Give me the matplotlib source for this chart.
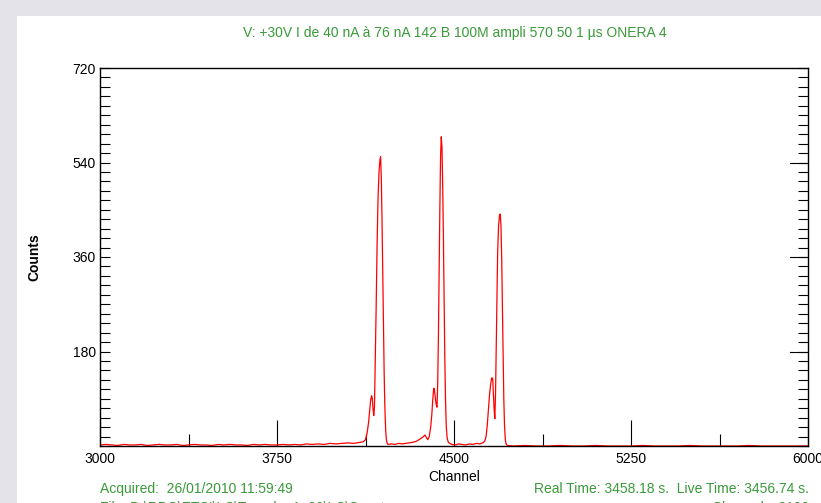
import numpy as np
import matplotlib
matplotlib.use('Agg')
import matplotlib.pyplot as plt
from matplotlib.patches import Rectangle
from matplotlib.ticker import MultipleLocator

plt.rcParams['font.family'] = ['Liberation Sans', 'DejaVu Sans']

# Spectrum (channel, counts)
channels = [3000, 3025, 3050, 3075, 3100, 3125, 3150, 3175, 3200, 3225, 3250, 3275,
            3300, 3325, 3350, 3375, 3400, 3425, 3450, 3475, 3500, 3525, 3550, 3575,
            3600, 3625, 3650, 3675, 3700, 3725, 3750, 3775, 3800, 3825, 3850, 3875,
            3900, 3925, 3950, 3975, 4000, 4025, 4050, 4075, 4100, 4115,
            # peak 1
            4125, 4132, 4138, 4143, 4147, 4151, 4154, 4157, 4160, 4163, 4166, 4170,
            4174, 4178, 4182, 4186, 4189, 4192, 4195, 4198, 4201, 4204, 4207, 4210,
            4213, 4216, 4220,
            # between 1 and 2
            4235, 4250, 4265, 4280, 4295, 4310, 4325, 4340, 4355, 4368, 4377, 4383,
            4389, 4395, 4401, 4406, 4410, 4414, 4417, 4420, 4424, 4428,
            # peak 2
            4431, 4434, 4437, 4440, 4443, 4446, 4449, 4452, 4455, 4458, 4461, 4464,
            4467, 4471, 4476,
            # between 2 and 3
            4490, 4505, 4520, 4535, 4550, 4565, 4580, 4595, 4610, 4622, 4630, 4636,
            4641, 4646, 4651, 4656, 4660, 4664, 4667, 4670, 4673,
            # peak 3
            4676, 4679, 4682, 4685, 4689, 4693, 4696, 4699, 4702, 4705, 4708, 4711,
            4714, 4717, 4720, 4725,
            # tail
            4750, 4800, 4850, 4900, 4950, 5000, 5050, 5100, 5150, 5200, 5250, 5300,
            5350, 5400, 5450, 5500, 5550, 5600, 5650, 5700, 5750, 5800, 5850, 5900,
            5950, 6000]

counts = [2, 3, 2, 1, 3, 2, 2, 3, 1, 2, 3, 2,
          2, 3, 1, 2, 3, 2, 2, 1, 3, 2, 3, 2,
          2, 1, 3, 2, 3, 2, 2, 3, 2, 3, 2, 4,
          3, 4, 3, 5, 4, 5, 6, 5, 7, 8,
          12, 25, 45, 70, 88, 96, 90, 70, 58, 75, 150, 260,
          380, 470, 520, 545, 551, 510, 430, 330, 230, 140, 75, 35,
          14, 6, 3,
          4, 3, 5, 4, 5, 6, 7, 9, 13, 17, 21, 16,
          12, 18, 35, 60, 88, 110, 108, 95, 80, 74,
          120, 210, 330, 450, 550, 589, 570, 500, 400, 280, 170, 90,
          40, 15, 7,
          3, 2, 4, 3, 2, 4, 3, 5, 4, 6, 9, 18,
          40, 70, 100, 120, 130, 128, 100, 70, 52,
          100, 190, 290, 370, 420, 440, 442, 420, 360, 270, 170, 90,
          40, 15, 5, 1,
          0, 1, 0, 0, 1, 0, 0, 1, 0, 0, 0, 1,
          0, 0, 0, 1, 0, 0, 0, 0, 1, 0, 0, 0,
          0, 0]

y_major = [180, 360, 540, 720]

title = 'V: +30V I de 40 nA à 76 nA 142 B 100M ampli 570 50 1 µs ONERA 4'
acquired = 'Acquired:  26/01/2010 11:59:49'
times = 'Real Time: 3458.18 s.  Live Time: 3456.74 s.'
file_line = 'File: D:\\RPG\\ETSI\\LC\\Tranche 1_30\\LC\\Spectre'
chan_line = 'Channels: 8192'

green = '#3a9a3a'

fig = plt.figure(figsize=(8.21, 5.03), dpi=100)
fig.patch.set_facecolor('#e4e3ea')
# white panel, behind everything
fig.patches.append(Rectangle((17 / 821, 0), 1, (503 - 16) / 503,
                             transform=fig.transFigure, facecolor='white',
                             edgecolor='none', zorder=-10))

ax = fig.add_axes([100 / 821, (503 - 446) / 503, 708 / 821, 378 / 503])
ax.set_zorder(5)
ax.patch.set_alpha(0)

ax.plot(channels, counts, color='#ff0000', linewidth=0.9)

ax.set_xlim(3000, 6000)
ax.set_ylim(0, 720)
ax.xaxis.set_major_locator(MultipleLocator(750))
ax.xaxis.set_minor_locator(MultipleLocator(375))
ax.set_yticks(y_major)
ax.yaxis.set_minor_locator(MultipleLocator(18))

ax.tick_params(axis='x', which='major', direction='in', length=19, width=0.8,
               labelsize=10, pad=4, top=False)
ax.tick_params(axis='x', which='minor', direction='in', length=9, width=0.8, top=False)
ax.yaxis.set_ticks_position('both')
ax.tick_params(axis='y', which='both', direction='in', length=7, width=0.8,
               labelsize=10, pad=3, left=True, right=True,
               labelleft=True, labelright=False)

# longer major ticks on the right side, drawn in axes/data blended coords
ytrans = ax.get_yaxis_transform()
for v in y_major[:-1]:
    ax.plot([1 - 18 / 708, 1], [v, v], color='black', linewidth=0.8,
            transform=ytrans, clip_on=False)

for s in ax.spines.values():
    s.set_linewidth(1)

ax.set_xlabel('Channel', fontsize=10, labelpad=3)
ax.set_ylabel('Counts', fontsize=10, fontweight='bold')
ax.yaxis.set_label_coords(-0.083, 0.5)

fig.text(455 / 821, (503 - 33) / 503, title, color=green, fontsize=10,
         ha='center', va='center')
fig.text(100 / 821, (503 - 489) / 503, acquired, color=green, fontsize=10,
         ha='left', va='center')
fig.text(809 / 821, (503 - 489) / 503, times, color=green, fontsize=10,
         ha='right', va='center')
fig.text(100 / 821, (503 - 508) / 503, file_line, color=green, fontsize=10,
         ha='left', va='center')
fig.text(809 / 821, (503 - 508) / 503, chan_line, color=green, fontsize=10,
         ha='right', va='center')

fig.savefig('out.png', dpi=100, facecolor=fig.get_facecolor())
